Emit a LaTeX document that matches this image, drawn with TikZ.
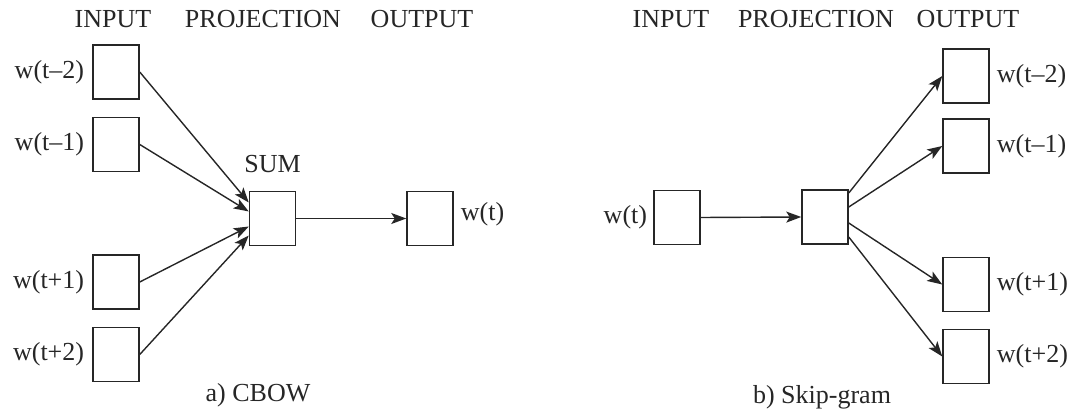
\documentclass[tikz,border=0pt]{standalone}
\usepackage{fontspec}
\setmainfont{Liberation Serif}
\usetikzlibrary{arrows.meta,calc}
\definecolor{ink}{HTML}{262626}
\begin{document}
\begin{tikzpicture}[x=1pt,y=-1pt,
  wbox/.style={draw=ink,line width=1.5pt,minimum width=46pt,minimum height=54pt,inner sep=0pt},
  lbl/.style={text=ink,font=\fontsize{26}{30}\selectfont,inner sep=0pt},
  conn/.style={draw=ink,line width=1.4pt,-{Stealth[length=15pt,width=11pt,inset=3.5pt]}}]
\useasboundingbox (0,0) rectangle (1092,419);
% headers
\node[lbl,anchor=base] (h1) at (113,28) {INPUT};
\node[lbl,anchor=base] (h2) at (263,28) {PROJECTION};
\node[lbl,anchor=base] (h3) at (422,28) {OUTPUT};
\node[lbl,anchor=base] (h4) at (671,28) {INPUT};
\node[lbl,anchor=base] (h5) at (816,28) {PROJECTION};
\node[lbl,anchor=base] (h6) at (968,28) {OUTPUT};
% CBOW
\node[wbox] (i1) at (116,72) {};
\node[wbox] (i2) at (116,144.5) {};
\node[wbox] (i3) at (116,282) {};
\node[wbox] (i4) at (116,354.5) {};
\node[lbl,anchor=east] at ($(i1.west)+(-8,0)$) {w(t–2)};
\node[lbl,anchor=east] at ($(i2.west)+(-8,0)$) {w(t–1)};
\node[lbl,anchor=east] at ($(i3.west)+(-8,0)$) {w(t+1)};
\node[lbl,anchor=east] at ($(i4.west)+(-8,0)$) {w(t+2)};
\node[wbox] (sum) at (272.5,218.5) {};
\node[lbl,anchor=base] (sumlbl) at (272.5,173) {SUM};
\node[wbox] (out) at (430,218.5) {};
\node[lbl,anchor=west] at ($(out.east)+(7,-4)$) {w(t)};
\node[lbl,anchor=base] (capa) at (258,402) {a) CBOW};
\path[conn] (i1.east) -- ($(sum.west)+(0,-16)$);
\path[conn] (i2.east) -- ($(sum.west)+(0,-7)$);
\path[conn] (i3.east) -- ($(sum.west)+(0,8)$);
\path[conn] (i4.east) -- ($(sum.west)+(0,17)$);
\path[conn] (sum.east) -- (out.west);
% Skip-gram
\node[wbox] (in) at (677,217.5) {};
\node[lbl,anchor=east] at ($(in.west)+(-6,0)$) {w(t)};
\node[wbox] (proj) at (825,217) {};
\node[wbox] (o1) at (966,76) {};
\node[wbox] (o2) at (966,146) {};
\node[wbox] (o3) at (966,284.5) {};
\node[wbox] (o4) at (966,356.5) {};
\node[lbl,anchor=west] at ($(o1.east)+(7,0)$) {w(t–2)};
\node[lbl,anchor=west] at ($(o2.east)+(7,0)$) {w(t–1)};
\node[lbl,anchor=west] at ($(o3.east)+(7,0)$) {w(t+1)};
\node[lbl,anchor=west] at ($(o4.east)+(7,0)$) {w(t+2)};
\node[lbl,anchor=base] (capb) at (822,403) {b) Skip-gram};
\path[conn] (in.east) -- (proj.west);
\path[conn] ($(proj.east)+(0,-24)$) -- (o1.west);
\path[conn] ($(proj.east)+(0,-10)$) -- (o2.west);
\path[conn] ($(proj.east)+(0,6)$) -- (o3.west);
\path[conn] ($(proj.east)+(0,20)$) -- (o4.west);
\end{tikzpicture}
\end{document}
